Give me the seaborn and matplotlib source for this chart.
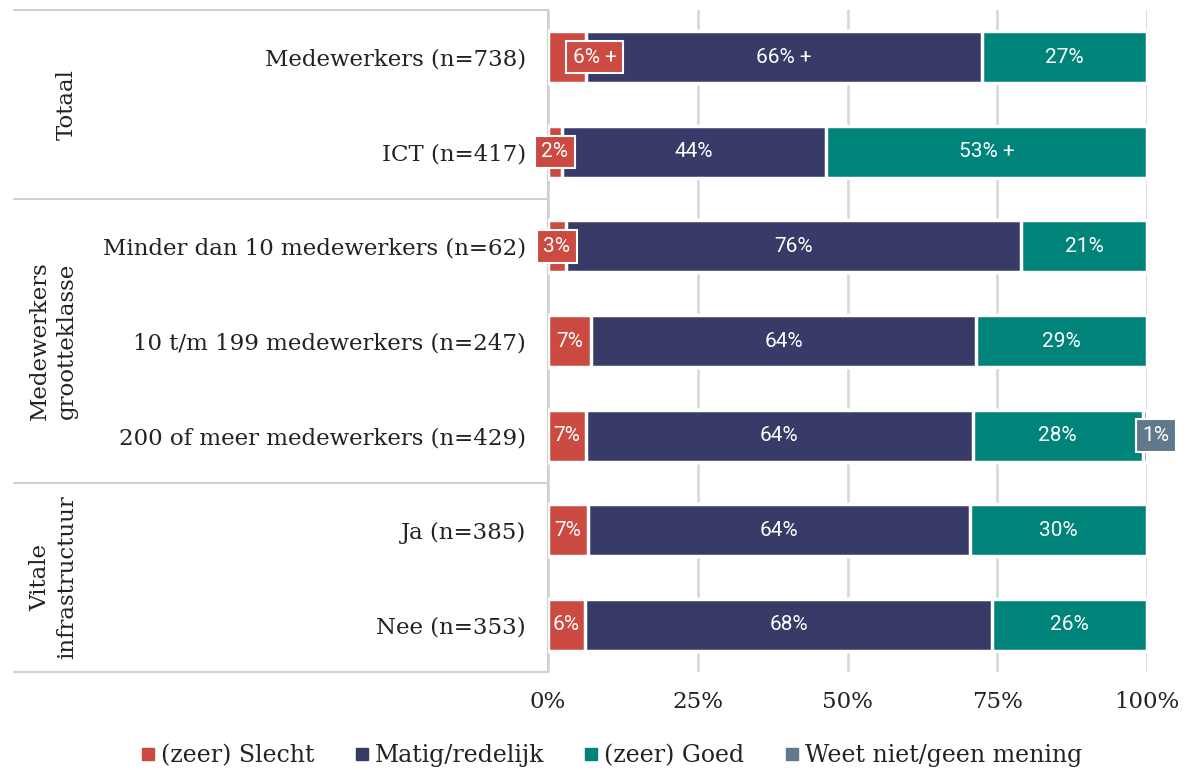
import matplotlib.pyplot as plt
from matplotlib.lines import Line2D
import numpy as np
import pandas as pd
import seaborn as sns

categories = [
    'Medewerkers (n=738)',
    'ICT (n=417)',
    'Minder dan 10 medewerkers (n=62)',
    '10 t/m 199 medewerkers (n=247)',
    '200 of meer medewerkers (n=429)',
    'Ja (n=385)',
    'Nee (n=353)',
]
series = ['(zeer) Slecht', 'Matig/redelijk', '(zeer) Goed', 'Weet niet/geen mening']
slecht = [6.4, 2.3, 3.0, 7.2, 6.3, 6.7, 6.2]
matig = [66.1, 44.1, 76.0, 64.3, 64.6, 63.8, 68.0]
goed = [27.5, 53.6, 21.0, 28.5, 28.4, 29.5, 25.8]
weet = [0.0, 0.0, 0.0, 0.0, 0.7, 0.0, 0.0]
labels_slecht = ['6% +', '2%', '3%', '7%', '7%', '7%', '6%']
labels_matig = ['66% +', '44%', '76%', '64%', '64%', '64%', '68%']
labels_goed = ['27%', '53% +', '21%', '29%', '28%', '30%', '26%']
labels_weet = ['', '', '', '', '1%', '', '']
groups = ['Totaal', 'Medewerkers\ngrootteklasse', 'Vitale\ninfrastructuur']
group_sizes = [2, 3, 2]
xticks = [0, 25, 50, 75, 100]

colors = ['#CB4A41', '#383B68', '#00847A', '#60798C']

sns.set_style('white')
plt.rcParams['font.family'] = ['DejaVu Serif']

values = np.array([slecht, matig, goed, weet]).T
labels = np.array([labels_slecht, labels_matig, labels_goed, labels_weet]).T
cum = values.cumsum(axis=1)
starts = cum - values

fig = plt.figure(figsize=(12.01, 7.7), dpi=100)
ax = fig.add_axes([548 / 1201, 1 - 672 / 770, 599 / 1201, 662 / 770])

# stacked bars: draw the longest cumulative layer first
for k in reversed(range(len(series))):
    x = np.where(values[:, k] > 0, cum[:, k], 0)
    df = pd.DataFrame({'cat': categories, 'x': x})
    sns.barplot(data=df, x='x', y='cat', color=colors[k], saturation=1,
                edgecolor='white', linewidth=2.5, width=0.55, ax=ax, zorder=3)

ax.set_xlim(0, 100)
ax.set_ylim(6.5, -0.5)
ax.set_xticks(xticks)
ax.set_xticklabels([f'{t}%' for t in xticks])
ax.set_xlabel('')
ax.set_ylabel('')
ax.tick_params(axis='both', length=0, labelsize=16.5, colors='#222222')
ax.tick_params(axis='y', pad=16)
ax.tick_params(axis='x', pad=14)
ax.grid(axis='x', color='#D9D9D9', linewidth=2, zorder=0)
ax.grid(axis='y', visible=False)
for s in ['top', 'right', 'bottom']:
    ax.spines[s].set_visible(False)
ax.spines['left'].set_color('#D0D0D0')
ax.spines['left'].set_linewidth(1.5)

# segment labels
for i in range(len(categories)):
    for k in range(len(series)):
        v = values[i, k]
        if v <= 0:
            continue
        txt = labels[i, k]
        mid = starts[i, k] + v / 2
        kw = dict(color='white', fontsize=15, family=['Roboto', 'DejaVu Sans'],
                  va='center', zorder=6, clip_on=False)
        box = dict(boxstyle='square,pad=0.32', fc=colors[k], ec='white', lw=1.5)
        if k == 3:
            ax.text(starts[i, k], i, txt, ha='left', bbox=box, **kw)
        elif v < 4 or (v < 10 and '+' in txt):
            ha = 'left' if '+' in txt else 'center'
            xpos = mid + 0.9 if '+' in txt else mid
            ax.text(xpos, i, txt, ha=ha, bbox=box, **kw)
        else:
            ax.text(mid, i, txt, ha='center', **kw)

# group separators and group labels
trans = ax.get_yaxis_transform()
x_left = (14 - 548) / 599
edges = np.concatenate([[0], np.cumsum(group_sizes)]) - 0.5
for e in edges:
    ax.plot([x_left, 0], [e, e], color='#D0D0D0', linewidth=1.5,
            transform=trans, clip_on=False, zorder=1)
for g, lo, hi in zip(groups, edges[:-1], edges[1:]):
    ax.text((78 - 548) / 599, (lo + hi) / 2, g, rotation=90, ha='right', va='center',
            multialignment='center', fontsize=16.5, color='#222222', linespacing=1.3,
            transform=trans)

handles = [Line2D([0], [0], marker='s', linestyle='none', markersize=8,
                  markerfacecolor=c, markeredgecolor=c) for c in colors]
fig.legend(handles, series, loc='lower center', bbox_to_anchor=(0.508, -0.024), ncol=4,
           frameon=False, fontsize=17, handletextpad=0.15, columnspacing=1.6,
           handlelength=0.8, labelcolor='#222222')

fig.savefig('out.png', dpi=100)
